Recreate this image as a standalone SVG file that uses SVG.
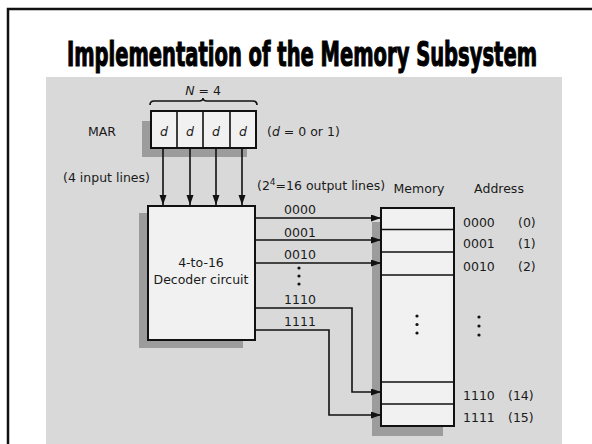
<svg xmlns="http://www.w3.org/2000/svg" width="592" height="444" viewBox="0 0 592 444">
<style>
.t{font-family:"DejaVu Sans","Liberation Sans",sans-serif;font-size:12.5px;fill:#1a1a1a}
.box{fill:#f1f1f1;stroke:#111;stroke-width:2}
.sh{fill:#9c9c9c}
.ln{fill:none;stroke:#111;stroke-width:1.6}
.it{font-style:italic}
</style>
<defs>
<marker id="ah" markerUnits="userSpaceOnUse" markerWidth="11" markerHeight="8" refX="10" refY="3.5" orient="auto">
<path d="M0,0 L10,3.5 L0,7 z" fill="#111"/>
</marker>
</defs>
<rect width="592" height="444" fill="#fff"/>
<g id="frame"><path d="M8,444 V9 H592" fill="none" stroke="#111" stroke-width="2.5"/></g>
<g id="title" transform="scale(1,1.6)"><text x="67" y="41.25" textLength="470" lengthAdjust="spacingAndGlyphs" style="font-family:'DejaVu Sans Condensed','DejaVu Sans','Liberation Sans',sans-serif;font-weight:bold;font-stretch:condensed;font-size:21.5px;fill:#000;stroke:#000;stroke-width:0.7">Implementation of the Memory Subsystem</text></g>
<g id="photo"><rect x="46" y="77" width="516" height="367" fill="#d9d9d9"/></g>

<g id="mar">
<text class="t" x="203" y="95" text-anchor="middle"><tspan class="it">N</tspan> = 4</text>
<path d="M150,105 Q150,101 154,101 H199 Q203,101 203,98 Q203,101 207,101 H253 Q257,101 257,105" class="ln" stroke-width="1.2"/>
<text class="t" x="102" y="136" text-anchor="middle">MAR</text>
<rect class="sh" x="142" y="121" width="105" height="36"/>
<rect class="box" x="151" y="111" width="105" height="37"/>
<path d="M177,111 V148 M203,111 V148 M230,111 V148" class="ln" stroke-width="2"/>
<text class="t it" x="164" y="136" text-anchor="middle">d</text>
<text class="t it" x="190" y="136" text-anchor="middle">d</text>
<text class="t it" x="216" y="136" text-anchor="middle">d</text>
<text class="t it" x="243" y="136" text-anchor="middle">d</text>
<text class="t" x="267" y="136">(<tspan class="it">d</tspan> = 0 or 1)</text>
</g>

<g id="decoder">
<rect class="sh" x="139" y="213" width="104" height="135"/>
<rect class="box" x="148" y="206" width="107" height="134"/>
<text class="t" x="201" y="267" text-anchor="middle">4-to-16</text>
<text class="t" x="201" y="284" text-anchor="middle">Decoder circuit</text>
</g>

<g id="memory">
<rect class="sh" x="372" y="222" width="71" height="214"/>
<rect class="box" x="381" y="208" width="73" height="218"/>
<path d="M381,229.5 H454 M381,252 H454 M381,275 H454 M381,382 H454 M381,404 H454" class="ln" stroke-width="2"/>
<circle cx="417" cy="316" r="1.6" fill="#111"/>
<circle cx="417" cy="324.5" r="1.6" fill="#111"/>
<circle cx="417" cy="333" r="1.6" fill="#111"/>
</g>

<g id="labels">
<text class="t" x="63" y="182">(4 input lines)</text>
<text class="t" x="257" y="190">(2<tspan dy="-5" font-size="9">4</tspan><tspan dy="5">=16 output lines)</tspan></text>
<text class="t" x="419" y="193" text-anchor="middle">Memory</text>
<text class="t" x="499" y="193" text-anchor="middle">Address</text>
<text class="t" x="300" y="214" text-anchor="middle">0000</text>
<text class="t" x="300" y="237" text-anchor="middle">0001</text>
<text class="t" x="300" y="259" text-anchor="middle">0010</text>
<circle cx="299" cy="268" r="1.6" fill="#111"/>
<circle cx="299" cy="276" r="1.6" fill="#111"/>
<circle cx="299" cy="284" r="1.6" fill="#111"/>
<text class="t" x="300" y="304" text-anchor="middle">1110</text>
<text class="t" x="300" y="326" text-anchor="middle">1111</text>
<text class="t" x="463" y="227">0000</text><text class="t" x="518" y="227">(0)</text>
<text class="t" x="463" y="248">0001</text><text class="t" x="518" y="248">(1)</text>
<text class="t" x="463" y="271">0010</text><text class="t" x="518" y="271">(2)</text>
<circle cx="479" cy="317" r="1.6" fill="#111"/>
<circle cx="479" cy="326" r="1.6" fill="#111"/>
<circle cx="479" cy="335" r="1.6" fill="#111"/>
<text class="t" x="463" y="400">1110</text><text class="t" x="508" y="400">(14)</text>
<text class="t" x="463" y="422">1111</text><text class="t" x="508" y="422">(15)</text>
</g>

<g id="connectors" class="ln" marker-end="url(#ah)">
<path d="M163,148 V205"/>
<path d="M190,148 V205"/>
<path d="M216,148 V205"/>
<path d="M242,148 V205"/>
<path d="M255,218 H381"/>
<path d="M255,240 H381"/>
<path d="M255,263 H381"/>
<path d="M255,308 H352 V392 H381"/>
<path d="M255,330 H329 V415 H381"/>
</g>
</svg>
